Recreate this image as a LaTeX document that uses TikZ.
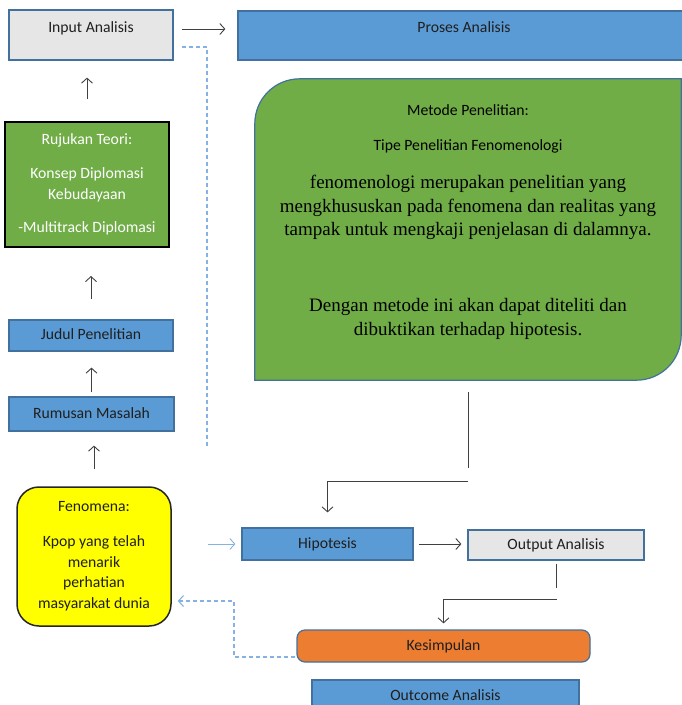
\documentclass[tikz,border=0pt]{standalone}
\usepackage{fontspec}
\setmainfont{Carlito}
\newfontfamily\timesfont{Liberation Serif}
\usetikzlibrary{arrows.meta,positioning}

\definecolor{boxblue}{HTML}{5B9BD5}
\definecolor{boxedge}{HTML}{41719C}
\definecolor{boxgrey}{HTML}{E6E6E6}
\definecolor{boxgreen}{HTML}{70AD47}
\definecolor{boxorange}{HTML}{ED7D31}
\definecolor{boxyellow}{HTML}{FFFF00}
\definecolor{dashblue}{HTML}{86B2E2}
\definecolor{arrowgrey}{HTML}{404040}

\begin{document}
\begin{tikzpicture}[x=1pt,y=-1pt,
  base/.style={font=\fontsize{15.7}{20.7}\selectfont, text=black!88},
  box/.style={base, draw=boxedge, line width=1.2pt, inner sep=0pt, text height=11pt, text depth=3pt},
  bluebox/.style={box, fill=boxblue},
  greybox/.style={box, fill=boxgrey},
  topbox/.style={text height=16pt, text depth=22pt},
  arr/.style={draw=arrowgrey, line width=0.9pt, -{Straight Barb[length=5pt,width=11pt]}},
  line/.style={draw=arrowgrey, line width=0.9pt},
  dashline/.style={draw=dashblue, line width=1.1pt, dash pattern=on 4pt off 3pt},
  serif/.style={font=\timesfont\fontsize{19}{23.5}\selectfont, align=center, text=black}]

\useasboundingbox (0,0) rectangle (682,705);
\clip (0,0) rectangle (682,705);

\node[greybox, topbox, minimum width=164pt, minimum height=50pt] (input) at (91,35) {Input Analisis};
\node[bluebox, topbox, minimum width=452pt, minimum height=49pt] (proses) at (464,35.5) {Proses Analisis};
\node[base, draw=black, line width=2pt, fill=boxgreen, text=white, align=center,
  minimum width=164pt, minimum height=125pt] (rujukan) at (87,184.5)
  {Rujukan Teori:\\[13pt]Konsep Diplomasi\\Kebudayaan\\[13pt]-Multitrack Diplomasi};
\node[bluebox, minimum width=164pt, minimum height=31pt] (judul) at (91,335.5) {Judul Penelitian};
\node[bluebox, minimum width=165pt, minimum height=34pt] (rumusan) at (91.5,414) {Rumusan Masalah};
\node[base, draw=black!85, line width=1.5pt, fill=boxyellow, rounded corners=22pt, align=center,
  minimum width=154pt, minimum height=139pt] (fenomena) at (94,556.5)
  {Fenomena:\\[14pt]Kpop yang telah\\menarik\\perhatian\\masyarakat dunia};

\node[minimum width=426pt, minimum height=301pt] (metode) at (468,229.5) {};
\draw[fill=boxgreen, draw=boxedge, line width=1.2pt]
  (metode.south west) -- ([yshift=-45pt]metode.north west)
  .. controls ([yshift=-20pt]metode.north west) and ([xshift=20pt]metode.north west) .. ([xshift=45pt]metode.north west)
  -- (metode.north east) -- ([yshift=45pt]metode.south east)
  .. controls ([yshift=20pt]metode.south east) and ([xshift=-20pt]metode.south east) .. ([xshift=-45pt]metode.south east)
  -- cycle;
\node[base, text=black] (mhead) at (468,110) {Metode Penelitian:};
\node[base, text=black] (mtipe) at (468,146) {Tipe Penelitian Fenomenologi};
\node[serif] (mdesc) at (468,207.5) {fenomenologi merupakan penelitian yang\\mengkhususkan pada fenomena dan realitas yang\\tampak untuk mengkaji penjelasan di dalamnya.};
\node[serif] (mhipo) at (468,319) {Dengan metode ini akan dapat diteliti dan\\dibuktikan terhadap hipotesis.};

\node[bluebox, minimum width=171pt, minimum height=32pt] (hipotesis) at (327.5,544) {Hipotesis};
\node[greybox, minimum width=176pt, minimum height=30pt] (output) at (556,545) {Output Analisis};
\node[box, fill=boxorange, rounded corners=8pt, minimum width=293pt, minimum height=32pt] (kesimpulan) at (443.5,646) {Kesimpulan};
\node[bluebox, minimum width=267pt, minimum height=32pt] (outcome) at (445.5,696) {Outcome Analisis};

\coordinate (dtop) at (207,47);
\coordinate (dend) at (207,446);
\coordinate (mdown) at (468,468);
\coordinate (mbend) at (468,481);
\coordinate (obot) at (556,588);
\coordinate (obend) at (557,599);
\coordinate (kb) at (234,657);
\coordinate (kt) at (234,601);

\draw[arr, shorten <=8pt, shorten >=12pt] ([yshift=6pt]input.east) -- ([yshift=6pt]input.east -| proses.west);
\draw[dashline, shorten <=8pt] ([yshift=-12pt]input.east) -- (dtop) -- (dend);
\draw[arr, shorten <=22pt, shorten >=17pt] (rujukan.north) -- (rujukan.north |- input.south);
\draw[arr, shorten <=20pt, shorten >=28pt] (judul.north) -- (judul.north |- rujukan.south);
\draw[arr, shorten <=4pt, shorten >=16pt] (rumusan.north) -- (rumusan.north |- judul.south);
\draw[arr, shorten <=17pt, shorten >=14pt] (fenomena.north) -- (fenomena.north |- rumusan.south);
\draw[arr, draw=dashblue, shorten <=36pt, shorten >=6pt] (hipotesis.west -| fenomena.east) -- (hipotesis.west);
\draw[arr, shorten <=5pt, shorten >=6pt] (hipotesis.east) -- (hipotesis.east -| output.west);
\draw[line, shorten <=12pt] (metode.south) -- (mdown);
\draw[arr, shorten >=15pt] (mbend) -| (hipotesis.north);
\draw[line, shorten <=3pt] (output.south) -- (obot);
\draw[arr, shorten >=6pt] (obend) -| (kesimpulan.north);
\draw[dashline, -{Straight Barb[length=5pt,width=11pt]}, shorten <=1pt, shorten >=6pt]
  ([yshift=-11pt]kesimpulan.west) -- (kb) -- (kt) -- (kt -| fenomena.east);
\end{tikzpicture}
\end{document}
